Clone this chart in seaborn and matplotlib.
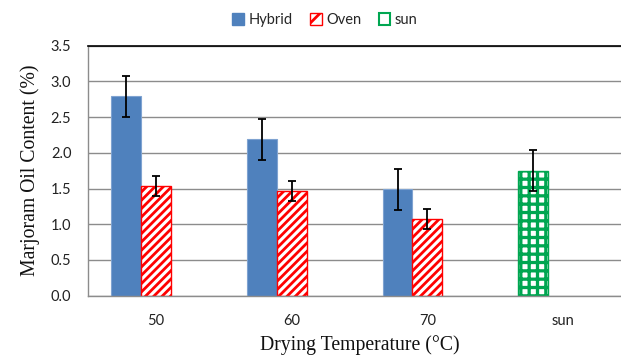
import matplotlib
matplotlib.use('Agg')
from matplotlib import pyplot as plt
from matplotlib.patches import Patch
import pandas as pd
import seaborn as sns

temperatures = ['50', '60', '70', 'sun']
hybrid_oil = [2.79, 2.19, 1.49]
hybrid_err = [0.29, 0.29, 0.29]
oven_oil = [1.53, 1.47, 1.08]
oven_err = [0.14, 0.14, 0.14]
sun_oil = [1.75]
sun_err = [0.29]

rows = []
for t, v, e in zip(temperatures[:3], hybrid_oil, hybrid_err):
    rows.append((t, 'Hybrid', v, e))
for t, v, e in zip(temperatures[:3], oven_oil, oven_err):
    rows.append((t, 'Oven', v, e))
rows.append(('sun', 'sun', sun_oil[0], sun_err[0]))
df = pd.DataFrame(rows, columns=['Temperature', 'Series', 'Oil', 'Err'])

sns.set_style('white')
plt.rcParams['hatch.linewidth'] = 2.0

tick_font = ['Lato', 'DejaVu Sans']
label_font = ['Liberation Serif', 'DejaVu Serif']

fig = plt.figure(figsize=(6.21, 3.59), dpi=100)
ax = fig.add_axes([88 / 621, 63.3 / 359, 543 / 621, 250 / 359])

series_order = ['Hybrid', 'Oven', 'sun']
sns.barplot(data=df, x='Temperature', y='Oil', hue='Series', order=temperatures,
            hue_order=series_order, dodge=True, width=0.66, ax=ax,
            errorbar=None, legend=False, palette=['#4F81BD', 'white', 'white'])

styles = {
    'Hybrid': dict(facecolor='#4F81BD', edgecolor='#7FA3D1', hatch=None, lw=0.8),
    'Oven': dict(facecolor='white', edgecolor='#FF0000', hatch='////', lw=1.0),
    'sun': dict(facecolor='white', edgecolor='#00A651', hatch='++', lw=1.0),
}

# barplot patches come hue-level by hue-level, category by category
for container, name in zip(ax.containers, series_order):
    for bar in container:
        h = bar.get_height()
        if not h == h or h == 0:
            continue
        st = styles[name]
        bar.set_facecolor(st['facecolor'])
        bar.set_edgecolor(st['edgecolor'])
        bar.set_linewidth(st['lw'])
        if st['hatch']:
            bar.set_hatch(st['hatch'])
        if name == 'sun':
            # the sun bar sits in the first slot of its group
            bar.set_x(bar.get_x() - 2 * bar.get_width())
            if hasattr(bar, 'set_hatch_linewidth'):
                bar.set_hatch_linewidth(2.35)
        cx = bar.get_x() + bar.get_width() / 2
        err = df[(df['Series'] == name) & (df['Oil'] == h)]['Err'].iloc[0]
        ax.errorbar(cx, h, yerr=err, color='black', lw=1.3, capsize=3,
                    capthick=1.3, zorder=5)

ax.set_xlim(-0.5, 3.5)
ax.set_ylim(0, 3.5)
ax.set_yticks([0, 0.5, 1, 1.5, 2, 2.5, 3, 3.5])
ax.set_yticklabels(['0.0', '0.5', '1.0', '1.5', '2.0', '2.5', '3.0', '3.5'])
ax.yaxis.grid(True, color='#8C8C8C', lw=1.0)
ax.set_axisbelow(True)

ax.set_xticks(range(4))
ax.set_xticklabels(temperatures)
ax.set_xticks([-0.5, 0.5, 1.5, 2.5, 3.5], minor=True)
ax.tick_params(axis='x', which='major', length=0, pad=13, labelsize=10.5,
               labelcolor='#222222')
ax.tick_params(axis='x', which='minor', length=5, color='#8C8C8C', width=1,
               direction='out')
ax.tick_params(axis='y', length=6, color='#8C8C8C', width=1, direction='out',
               pad=6, labelsize=10.5, labelcolor='#222222')
for lab in ax.get_xticklabels() + ax.get_yticklabels():
    lab.set_family(tick_font)

for side in ['left', 'bottom']:
    ax.spines[side].set_color('#8C8C8C')
    ax.spines[side].set_linewidth(1)
ax.spines['top'].set_color('black')
ax.spines['top'].set_linewidth(1.2)
ax.spines['right'].set_visible(False)

ax.set_xlabel('Drying Temperature (°C)', family=label_font, fontsize=14.2,
              labelpad=5, color='#111111')
ax.set_ylabel('Marjoram Oil Content (%)', family=label_font, fontsize=14.2,
              labelpad=8, color='#111111')

handles = [
    Patch(facecolor='#4F81BD', edgecolor='#4F81BD', label='Hybrid'),
    Patch(facecolor='white', edgecolor='#FF0000', hatch='//', label='Oven'),
    Patch(facecolor='white', edgecolor='#00A651', lw=1.5, label='sun'),
]
fig.legend(handles=handles, loc='center', bbox_to_anchor=(325 / 621, 1 - 20 / 359),
           ncol=3, frameon=False, handlelength=0.8, handleheight=0.8,
           handletextpad=0.3, columnspacing=1.2,
           prop={'family': tick_font, 'size': 10.5})

fig.savefig('out.png', dpi=100)
